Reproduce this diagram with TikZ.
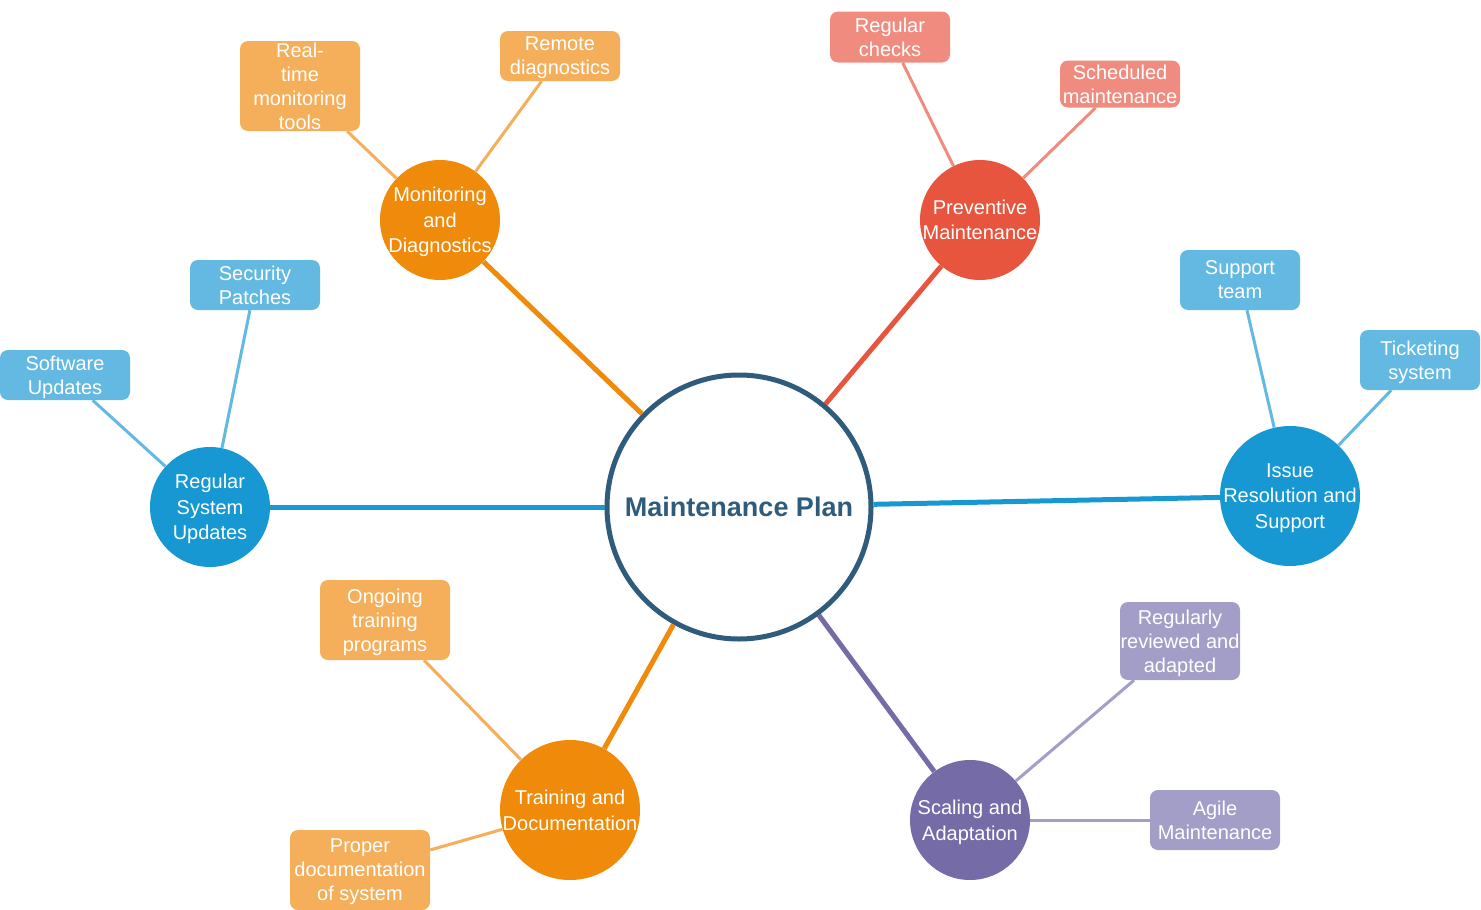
\documentclass[tikz,border=0pt]{standalone}
\usepackage{fontspec}
\setmainfont{Liberation Sans}
\definecolor{plan}{HTML}{2F5B7C}
\definecolor{orange}{HTML}{F08A0B}
\definecolor{orangeL}{HTML}{F5AF5A}
\definecolor{red}{HTML}{E8553F}
\definecolor{redL}{HTML}{F08C7F}
\definecolor{blue}{HTML}{1798D2}
\definecolor{blueL}{HTML}{63B9E1}
\definecolor{purple}{HTML}{756BA7}
\definecolor{purpleL}{HTML}{A39EC7}
\begin{document}
\begin{tikzpicture}[x=1pt,y=-1pt,
  branch/.style={circle,fill=#1,text=white,inner sep=-8pt,minimum size=120pt,
    align=center,text depth=0pt,font=\fontsize{20}{25.5}\selectfont},
  leaf/.style={rectangle,rounded corners=8pt,fill=#1,text=white,inner sep=0pt,
    minimum width=120pt,minimum height=50pt,align=center,text depth=0pt,
    font=\fontsize{20}{24}\selectfont},
  trunk/.style={line width=5pt,draw=#1},
  twig/.style={line width=3pt,draw=#1}]
\useasboundingbox (0,0) rectangle (1481,910);
\node[circle,draw=plan,line width=5pt,fill=white,minimum size=264pt,text=plan,
  font=\bfseries\fontsize{27}{30}\selectfont] (P) at (739,507) {Maintenance Plan};
\node[branch=orange] (MD) at (440,220) {Monitoring\\and\\Diagnostics};
\node[leaf=orangeL,minimum height=90pt] (RT) at (300,86) {Real-\\time\\monitoring\\tools};
\node[leaf=orangeL] (RD) at (560,56) {Remote\\diagnostics};
\node[branch=red] (PM) at (980,220) {Preventive\\Maintenance};
\node[leaf=redL,minimum height=51pt] (RC) at (890,37) {Regular\\checks};
\node[leaf=redL,minimum height=47pt] (SM) at (1120,84) {Scheduled\\maintenance};
\node[branch=blue,minimum size=140pt] (IR) at (1290,496) {Issue\\Resolution and\\Support};
\node[leaf=blueL,minimum height=60pt] (ST) at (1240,280) {Support\\team};
\node[leaf=blueL,minimum height=60pt] (TS) at (1420,360) {Ticketing\\system};
\node[branch=purple] (SA) at (970,820) {Scaling and\\Adaptation};
\node[leaf=purpleL,minimum height=78pt] (RR) at (1180,641) {Regularly\\reviewed and\\adapted};
\node[leaf=purpleL,minimum width=130pt,minimum height=60pt] (AM) at (1215,820) {Agile\\Maintenance};
\node[branch=orange,minimum size=140pt] (TD) at (570,810) {Training and\\Documentation};
\node[leaf=orangeL,minimum width=130pt,minimum height=80pt] (OT) at (385,620) {Ongoing\\training\\programs};
\node[leaf=orangeL,minimum width=140pt,minimum height=80pt] (PD) at (360,870) {Proper\\documentation\\of system};
\node[branch=blue] (RS) at (210,507) {Regular\\System\\Updates};
\node[leaf=blueL,minimum width=130pt] (SP) at (255,285) {Security\\Patches};
\node[leaf=blueL,minimum width=130pt] (SU) at (65,375) {Software\\Updates};
\path
  (P) edge[trunk=orange] (MD)
  (P) edge[trunk=red] (PM)
  (P) edge[trunk=blue] (IR)
  (P) edge[trunk=purple] (SA)
  (P) edge[trunk=orange] (TD)
  (P) edge[trunk=blue] (RS)
  (MD) edge[twig=orangeL] (RT)
  (MD) edge[twig=orangeL] (RD)
  (PM) edge[twig=redL] (RC)
  (PM) edge[twig=redL] (SM)
  (IR) edge[twig=blueL] (ST)
  (IR) edge[twig=blueL] (TS)
  (SA) edge[twig=purpleL] (RR)
  (SA) edge[twig=purpleL] (AM)
  (TD) edge[twig=orangeL] (OT)
  (TD) edge[twig=orangeL] (PD)
  (RS) edge[twig=blueL] (SP)
  (RS) edge[twig=blueL] (SU)
;
\end{tikzpicture}
\end{document}
